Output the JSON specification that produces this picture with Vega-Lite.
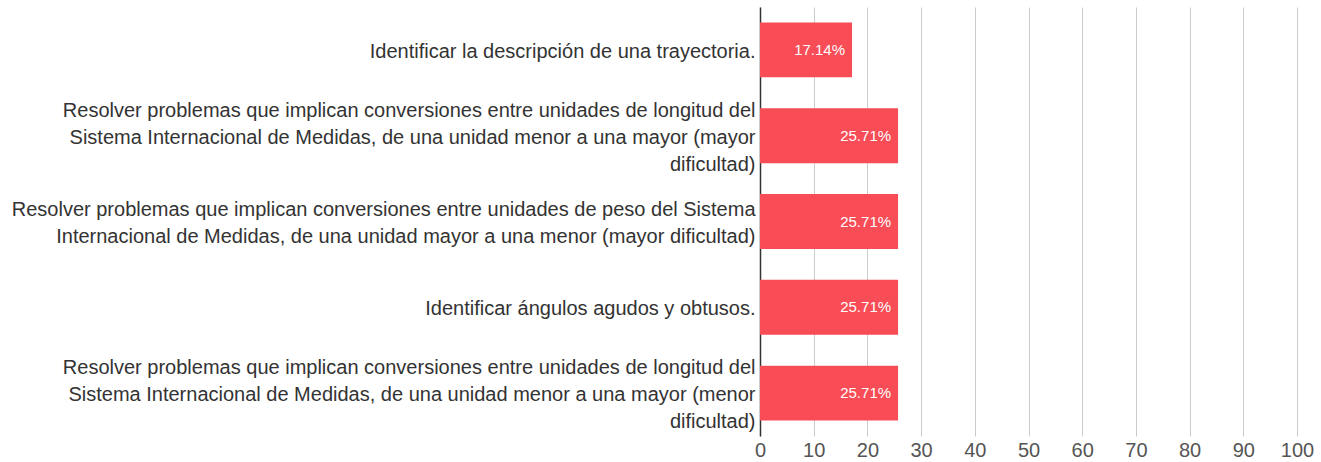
{
  "$schema": "https://vega.github.io/schema/vega-lite/v6.json",
  "autosize": "none",
  "width": 537,
  "height": 429,
  "padding": {"left": 760, "top": 7, "right": 24, "bottom": 26},
  "background": "white",
  "data": {
    "values": [
      {"tema": "Identificar la descripción de una trayectoria.", "pct": 17.14, "etiqueta": "17.14%"},
      {"tema": "Resolver problemas que implican conversiones entre unidades de longitud del|Sistema Internacional de Medidas, de una unidad menor a una mayor (mayor|dificultad)", "pct": 25.71, "etiqueta": "25.71%"},
      {"tema": "Resolver problemas que implican conversiones entre unidades de peso del Sistema|Internacional de Medidas, de una unidad mayor a una menor (mayor dificultad)", "pct": 25.71, "etiqueta": "25.71%"},
      {"tema": "Identificar ángulos agudos y obtusos.", "pct": 25.71, "etiqueta": "25.71%"},
      {"tema": "Resolver problemas que implican conversiones entre unidades de longitud del|Sistema Internacional de Medidas, de una unidad menor a una mayor (menor|dificultad)", "pct": 25.71, "etiqueta": "25.71%"}
    ]
  },
  "encoding": {
    "y": {
      "field": "tema",
      "type": "nominal",
      "sort": null,
      "scale": {"paddingInner": 0.36, "paddingOuter": 0.18},
      "axis": {
        "title": null,
        "labelExpr": "split(datum.label, '|')",
        "labelOffset": {"expr": "2 - (length(split(datum.value, '|')) - 1) * 13.5"},
        "labelFont": "Liberation Sans",
        "labelFontSize": 20,
        "labelColor": "#333333",
        "labelLimit": 800,
        "labelLineHeight": 27,
        "labelPadding": 5,
        "ticks": false,
        "domainColor": "#333333",
        "domainWidth": 1.5
      }
    },
    "x": {
      "field": "pct",
      "type": "quantitative",
      "scale": {"domain": [0, 100]},
      "axis": {
        "title": null,
        "values": [0, 10, 20, 30, 40, 50, 60, 70, 80, 90, 100],
        "labelFont": "Liberation Sans",
        "labelFontSize": 20,
        "labelColor": "#555555",
        "labelPadding": 4,
        "labelFlush": false,
        "ticks": false,
        "domain": false,
        "grid": true,
        "gridColor": "#cccccc",
        "gridWidth": 1
      }
    }
  },
  "layer": [
    {"mark": {"type": "bar", "color": "#f84c56"}},
    {
      "mark": {"type": "text", "align": "right", "dx": -7, "color": "white", "font": "Liberation Sans", "fontSize": 15},
      "encoding": {"text": {"field": "etiqueta"}}
    }
  ],
  "config": {"view": {"stroke": null}}
}
